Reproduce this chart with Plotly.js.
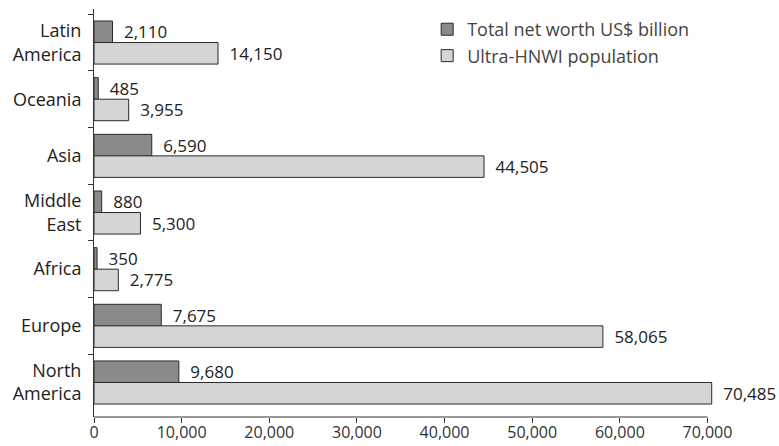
<!DOCTYPE html>
<html><head><meta charset="utf-8">
<script src="https://cdn.plot.ly/plotly-3.0.1.min.js"></script>
<style>body{margin:0;background:#fff}#chart{width:779px;height:446px}</style>
</head><body><div id="chart"></div>
<script>
const regions = ["Latin<br>America", "Oceania", "Asia", "Middle<br>East", "Africa", "Europe", "North<br>America"];
const netWorth = [2110, 485, 6590, 880, 350, 7675, 9680];
const population = [14150, 3955, 44505, 5300, 2775, 58065, 70485];
const seriesNames = ["Total net worth US$ billion", "Ultra-HNWI population"];
const xTicks = [0, 10000, 20000, 30000, 40000, 50000, 60000, 70000];
const xAxisEnd = 70000;

const fontFam = "Open Sans, Noto Sans, sans-serif";
const mk = (vals, name, color) => ({
  type: "bar", orientation: "h", y: regions, x: vals, name: name,
  marker: {color: color, line: {color: "#2a2a2a", width: 1}},
  texttemplate: "\u2002%{x:,}", textposition: "outside", constraintext: "none",
  textfont: {family: fontFam, size: 17, color: "#222"},
  cliponaxis: false, hoverinfo: "skip"
});
const data = [mk(netWorth, seriesNames[0], "#8a8a8a"), mk(population, seriesNames[1], "#d5d5d5")];
const layout = {
  width: 779, height: 446,
  margin: {l: 94, r: 54, t: 9, b: 29},
  paper_bgcolor: "#fff", plot_bgcolor: "#fff",
  barmode: "group", bargap: 0.24, bargroupgap: 0,
  font: {family: fontFam, size: 16, color: "#333"},
  xaxis: {range: [0, 72000], tickvals: xTicks, tickformat: ",", showgrid: false, zeroline: false,
    showline: false, ticks: "outside", ticklen: 5, tickcolor: "#333", ticklabelstandoff: -4,
    tickfont: {size: 16, color: "#333"}},
  yaxis: {range: [6.609, -0.592], autorange: false, showgrid: false, zeroline: false, showline: true, linecolor: "#333", linewidth: 1,
    ticks: "outside", ticklen: 5, tickcolor: "#333", tickson: "boundaries", ticklabelstandoff: 8,
    tickfont: {size: 18, color: "#222"}},
  shapes: [{type: "line", xref: "x", yref: "paper", x0: 0, x1: xAxisEnd, y0: 0, y1: 0,
    line: {color: "#333", width: 1}}],
  legend: {x: 0.528, y: 0.995, xanchor: "left", yanchor: "top", traceorder: "normal",
    font: {size: 18, color: "#444"}, bgcolor: "rgba(0,0,0,0)", tracegroupgap: 0},
  showlegend: true
};
Plotly.newPlot("chart", data, layout, {displayModeBar: false, staticPlot: true});
</script></body></html>
